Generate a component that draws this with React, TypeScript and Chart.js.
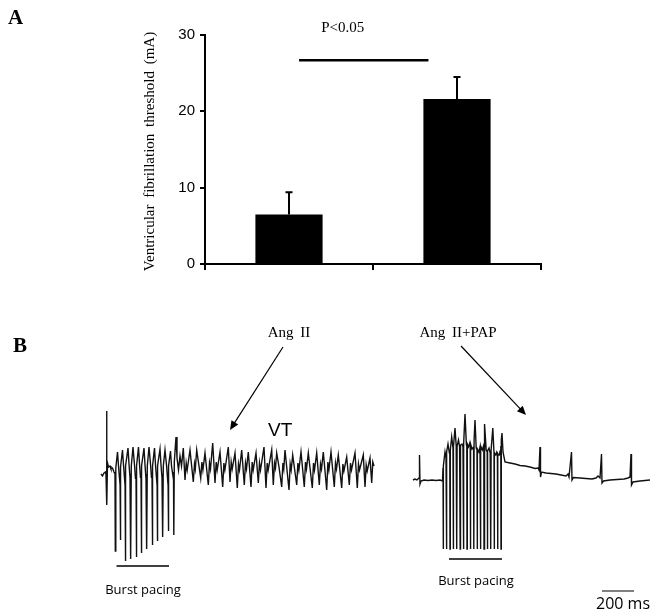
import React, { useEffect, useRef } from "react";
import { Chart, registerables } from "chart.js";

Chart.register(...registerables);

// ---------- Panel A data ----------
const groups = ["Ang II", "Ang II+PAP"];
const vftMeans = [6.5, 21.6];
const vftErrors = [2.9, 2.9];
const yTickValues = [0, 10, 20, 30];
const yAxisTitle = "Ventricular fibrillation threshold (mA)";
const sigLabel = "P<0.05";
const sigLevel = 26.7; // mA, height of significance bar
const sigSpan = [0.06, 0.83]; // category positions (index units)

// ---------- Panel B data (ECG traces, sample index vs deflection, downward positive) ----------
const msPerSample = 6.25;
const scaleBarMs = 200;

const angIITrace: [number, number][] = [
  [101, 474], [102.5, 476], [104, 473], [105.5, 472], [106, 475], [106.5, 411], [107, 505], [107.5, 463],
  [108.5, 467], [110, 466], [111, 469], [112.5, 468], [114, 472],
  [115, 474], [115.3, 551], [115.8, 468], [117.5, 452], [118.5, 466], [119.5, 478],
  [120, 474], [120.3, 540], [120.8, 467], [122.5, 450], [123.5, 465], [124.5, 478],
  [125, 474], [125.3, 561], [125.8, 466], [128, 448], [129, 464], [130, 478],
  [130.5, 474], [130.8, 559], [131.3, 466], [133, 447], [134.5, 465], [135.5, 479],
  [136, 474], [136.3, 557], [136.8, 466], [138.5, 447], [139.5, 464], [140.5, 478],
  [141, 474], [141.3, 553], [141.8, 466], [144, 448], [145, 465], [146, 479],
  [146.5, 474], [146.8, 549], [147.3, 466], [149, 447], [150.5, 464], [151.5, 478],
  [152, 474], [152.3, 545], [152.8, 466], [154.5, 448], [155.5, 465], [156.5, 478],
  [157, 474], [157.3, 541], [157.8, 466], [160, 449], [161, 465], [162, 478],
  [162.5, 474], [162.8, 537], [163.3, 466], [165, 450], [166.5, 465], [167.5, 478],
  [168, 474], [168.3, 531], [168.8, 466], [170.5, 451], [171.5, 466], [173, 476],
  [173.5, 472], [173.8, 535], [174.3, 462], [176, 437], [177, 458], [178.5, 470], [180, 456], [181.5, 466],
  [183.3, 448], [185, 480], [186.2, 463], [187.2, 470],
  [190, 450], [193.3, 482], [194.5, 464], [195.3, 469],
  [196.7, 450], [200.7, 478], [201.9, 462], [202.9, 470],
  [205, 453], [208.3, 485], [209.5, 463], [210.5, 469],
  [212.7, 443], [215, 483], [216.2, 462], [217.2, 470],
  [220, 452], [222.7, 487], [223.9, 463], [224.9, 470],
  [228.3, 447], [230, 482], [231.2, 462], [232.2, 469],
  [235, 453], [237.3, 488], [238.5, 464], [239.5, 470],
  [241.7, 450], [244.3, 485], [245.5, 463], [246.5, 469],
  [248.3, 452], [251, 487], [252.2, 462], [253.2, 470],
  [256, 453], [258.3, 483], [259.5, 463], [260.5, 470],
  [264, 447], [266, 488], [267.2, 463], [268.2, 470],
  [271.7, 450], [273.3, 485], [274.5, 463], [275.5, 468],
  [276.7, 453], [279, 467], [281.7, 487], [282.9, 463], [283.8, 469],
  [285, 450], [289, 490], [290.2, 464], [291.2, 470],
  [292.7, 455], [296.7, 485], [297.9, 463], [298.9, 470],
  [301, 452], [304.3, 487], [305.5, 462], [306.5, 469],
  [308.3, 453], [312.3, 488], [313.5, 463], [314.5, 470],
  [316.7, 453], [319.3, 485], [320.5, 464], [321.5, 469],
  [323.3, 452], [326.7, 490], [327.9, 462], [328.9, 470],
  [331, 452], [334.3, 487], [335.5, 463], [336.5, 469],
  [338.3, 455], [341.7, 488], [342.9, 464], [343.9, 471],
  [346.7, 457], [349.3, 485], [350.5, 463], [351.5, 470],
  [355, 453], [357.3, 488], [358.5, 464], [359.5, 470],
  [363.3, 455], [365, 487], [366.2, 465], [367.2, 471],
  [370, 458], [371.7, 483], [372.8, 462], [374, 466],
];

const angIIPapTrace: [number, number][] = [
  [413, 480], [415, 479], [417, 480], [419, 478], [419.5, 455], [420, 484], [421, 481], [424, 480],
  [428, 480.5], [432, 480], [436, 480.5], [440, 480], [442.5, 481],
  [443, 468], [443.2, 549], [443.5, 466], [445, 452], [446, 458],
  [446.4, 456], [446.6, 549], [446.9, 452], [448, 444], [449.4, 453],
  [449.8, 452], [450, 549], [450.3, 450], [451.7, 437], [453, 448],
  [453.2, 449], [453.4, 549], [453.7, 447], [455, 428], [456.2, 446],
  [456.6, 448], [456.8, 549], [457.1, 446], [458.5, 440], [459.6, 447],
  [460, 447], [460.2, 549], [460.5, 445], [462, 444], [463, 447],
  [463.4, 446], [463.6, 549], [463.9, 444], [465, 414], [466.4, 445],
  [466.8, 446], [467, 549], [467.3, 444], [468.5, 447], [469.8, 443],
  [470.2, 446], [470.4, 549], [470.7, 444], [472, 449],
  [473.6, 447], [473.8, 549], [474.1, 440], [475, 420], [476.2, 448],
  [477, 450], [477.2, 549], [477.5, 449], [478.8, 452], [480, 447],
  [480.4, 448], [480.6, 549], [480.9, 446], [482.3, 450],
  [483.8, 445], [484, 549], [484.3, 436], [484.8, 424], [486.2, 450],
  [487.2, 452], [487.4, 549], [487.7, 451], [489, 448], [490.2, 453],
  [490.6, 452], [490.8, 549], [491.1, 450], [492.8, 428], [493.8, 449],
  [494, 452], [494.2, 549], [494.5, 453], [495.8, 455], [496.8, 452],
  [497.4, 453], [497.6, 549], [497.9, 455], [499.3, 455], [500.2, 451],
  [500.8, 446], [501, 549], [501.3, 440], [502, 433], [503, 452], [505, 462],
  [510, 463], [515, 464], [520, 465.5], [525, 466], [530, 467], [535, 468.5], [538, 468], [539, 470],
  [540, 447], [540.5, 477], [541.5, 472], [546, 473], [551, 473.5], [556, 474], [561, 475], [566, 476],
  [568, 474], [569, 477], [571.5, 452], [572, 480], [573.5, 477.5], [580, 478], [586, 478.5], [592, 479],
  [596, 478], [598, 476], [600, 478], [601.5, 454], [602, 483], [603.5, 481], [610, 480], [617, 479.5],
  [624, 479], [628, 478], [630, 477], [631, 454], [631.5, 485], [633, 482], [640, 481], [645, 480.5], [650, 480],
];

const toPoints = (tr: [number, number][]) => tr.map(([x, y]) => ({ x, y }));

const serif = '"Liberation Serif", "Times New Roman", serif';
const sans = '"Liberation Sans", Arial, sans-serif';
const calibriLike = '"Open Sans", "Noto Sans", sans-serif';

function BarPanel() {
  const ref = useRef<HTMLCanvasElement | null>(null);
  useEffect(() => {
    if (!ref.current) return;
    const overlay = {
      id: "panelAOverlay",
      afterDatasetsDraw(chart: any) {
        const { ctx, scales } = chart;
        const xs = scales.x;
        const ys = scales.y;
        ctx.save();
        ctx.strokeStyle = "#000";
        ctx.fillStyle = "#000";
        // error bars
        ctx.lineWidth = 2;
        vftMeans.forEach((m, i) => {
          const x = xs.getPixelForValue(i);
          const yb = ys.getPixelForValue(m);
          const yt = ys.getPixelForValue(m + vftErrors[i]);
          ctx.beginPath();
          ctx.moveTo(x, yb);
          ctx.lineTo(x, yt);
          ctx.moveTo(x - 3.5, yt);
          ctx.lineTo(x + 3.5, yt);
          ctx.stroke();
        });
        // significance bar
        const sy = ys.getPixelForValue(sigLevel);
        ctx.lineWidth = 2.5;
        ctx.beginPath();
        ctx.moveTo(xs.getPixelForValue(sigSpan[0]), sy);
        ctx.lineTo(xs.getPixelForValue(sigSpan[1]), sy);
        ctx.stroke();
        ctx.font = `15px ${serif}`;
        ctx.textAlign = "center";
        ctx.textBaseline = "middle";
        ctx.fillText(sigLabel, xs.getPixelForValue((sigSpan[0] + sigSpan[1]) / 2) - 21, 28);
        // panel letter
        ctx.font = `bold 21px ${serif}`;
        ctx.textAlign = "left";
        ctx.fillText("A", 8, 19);
        // y axis title
        ctx.translate(150, (ys.top + ys.bottom) / 2 + 2);
        ctx.rotate(-Math.PI / 2);
        ctx.font = `15px ${serif}`;
        (ctx as any).wordSpacing = "3px";
        ctx.textAlign = "center";
        ctx.textBaseline = "middle";
        ctx.fillText(yAxisTitle, 0, 0);
        ctx.restore();
      },
    };
    const chart = new Chart(ref.current, {
      type: "bar",
      data: {
        labels: groups,
        datasets: [
          {
            data: vftMeans,
            backgroundColor: "#000",
            borderWidth: 0,
            barPercentage: 0.4,
            categoryPercentage: 1,
          },
        ],
      },
      options: {
        animation: false,
        responsive: false,
        maintainAspectRatio: false,
        layout: { padding: { top: 35, right: 114, left: 0, bottom: 0 } },
        plugins: { legend: { display: false }, tooltip: { enabled: false } },
        scales: {
          x: {
            offset: true,
            grid: { display: true, drawOnChartArea: false, drawTicks: true, tickLength: 6, color: "#000", lineWidth: 2, offset: true },
            border: { display: true, color: "#000", width: 2 },
            ticks: { display: false },
            afterFit: (s: any) => { s.height = 26; },
          },
          y: {
            min: 0,
            max: 30,
            afterBuildTicks: (s: any) => { s.ticks = yTickValues.map((v) => ({ value: v })); },
            ticks: { color: "#000", font: { family: sans, size: 15 }, padding: 5 },
            grid: { drawOnChartArea: false, drawTicks: true, tickLength: 5, color: "#000", lineWidth: 2 },
            border: { display: true, color: "#000", width: 2 },
            afterFit: (s: any) => { s.width = 205; },
          },
        },
      },
      plugins: [overlay],
    });
    return () => chart.destroy();
  }, []);
  return <canvas ref={ref} width={655} height={290} style={{ position: "absolute", left: 0, top: 0, width: 655, height: 290 }} />;
}

function TracePanel() {
  const ref = useRef<HTMLCanvasElement | null>(null);
  useEffect(() => {
    if (!ref.current) return;
    const overlay = {
      id: "panelBOverlay",
      afterDatasetsDraw(chart: any) {
        const { ctx, scales } = chart;
        const X = (v: number) => scales.x.getPixelForValue(v);
        const Y = (v: number) => scales.y.getPixelForValue(v);
        ctx.save();
        ctx.fillStyle = "#000";
        ctx.strokeStyle = "#000";
        ctx.textBaseline = "middle";
        // panel letter
        ctx.font = `bold 21px ${serif}`;
        ctx.textAlign = "left";
        ctx.fillText("B", X(13), Y(347));
        // group labels
        ctx.font = `15px ${serif}`;
        ctx.textAlign = "center";
        (ctx as any).wordSpacing = "3px";
        ctx.fillText("Ang II", X(289), Y(333));
        ctx.fillText("Ang II+PAP", X(458), Y(333));
        (ctx as any).wordSpacing = "0px";
        // arrows
        const arrow = (x1: number, y1: number, x2: number, y2: number) => {
          const px1 = X(x1), py1 = Y(y1), px2 = X(x2), py2 = Y(y2);
          const a = Math.atan2(py2 - py1, px2 - px1);
          const L = 9, W = 4;
          ctx.lineWidth = 1.2;
          ctx.beginPath();
          ctx.moveTo(px1, py1);
          ctx.lineTo(px2 - Math.cos(a) * L * 0.7, py2 - Math.sin(a) * L * 0.7);
          ctx.stroke();
          ctx.beginPath();
          ctx.moveTo(px2, py2);
          ctx.lineTo(px2 - Math.cos(a) * L + Math.sin(a) * W, py2 - Math.sin(a) * L - Math.cos(a) * W);
          ctx.lineTo(px2 - Math.cos(a) * L - Math.sin(a) * W, py2 - Math.sin(a) * L + Math.cos(a) * W);
          ctx.closePath();
          ctx.fill();
        };
        arrow(283, 347, 230, 430);
        arrow(461, 346, 526, 415);
        // VT label
        ctx.font = `19px ${sans}`;
        ctx.textAlign = "left";
        ctx.fillText("VT", X(268), Y(431));
        // burst pacing bars
        ctx.lineWidth = 1.3;
        ctx.beginPath();
        ctx.moveTo(X(116.5), Y(566));
        ctx.lineTo(X(169), Y(566));
        ctx.moveTo(X(449), Y(559));
        ctx.lineTo(X(502), Y(559));
        ctx.stroke();
        ctx.font = `13px ${calibriLike}`;
        ctx.textAlign = "center";
        ctx.fillText("Burst pacing", X(143), Y(590));
        ctx.fillText("Burst pacing", X(476), Y(581));
        // scale bar
        const barLen = scaleBarMs / msPerSample;
        ctx.lineWidth = 1;
        ctx.beginPath();
        ctx.moveTo(X(602), Y(591));
        ctx.lineTo(X(602 + barLen), Y(591));
        ctx.stroke();
        ctx.font = `16px ${calibriLike}`;
        ctx.fillText(`${scaleBarMs} ms`, X(623), Y(604));
        ctx.restore();
      },
    };
    const chart = new Chart(ref.current, {
      type: "line",
      data: {
        datasets: [
          { data: toPoints(angIITrace), borderColor: "#111", borderWidth: 1.4, pointRadius: 0, tension: 0, fill: false },
          { data: toPoints(angIIPapTrace), borderColor: "#111", borderWidth: 1.4, pointRadius: 0, tension: 0, fill: false },
        ],
      },
      options: {
        animation: false,
        responsive: false,
        maintainAspectRatio: false,
        layout: { padding: 0 },
        plugins: { legend: { display: false }, tooltip: { enabled: false } },
        scales: {
          x: { type: "linear", min: 0, max: 655, display: false },
          y: { type: "linear", min: 290, max: 616, reverse: true, display: false },
        },
      },
      plugins: [overlay],
    });
    return () => chart.destroy();
  }, []);
  return <canvas ref={ref} width={655} height={326} style={{ position: "absolute", left: 0, top: 290, width: 655, height: 326 }} />;
}

export default function App() {
  return (
    <div style={{ position: "absolute", left: 0, top: 0, width: 655, height: 616, background: "#fff" }}>
      <BarPanel />
      <TracePanel />
    </div>
  );
}
